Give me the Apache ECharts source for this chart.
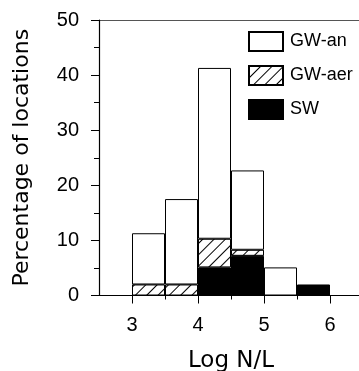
<!DOCTYPE html>
<html>
<head>
<meta charset="utf-8">
<script src="https://cdn.jsdelivr.net/npm/echarts@6/dist/echarts.min.js"></script>
<style>
  html, body { margin: 0; padding: 0; background: #fff; }
  #chart { width: 359px; height: 371px; }
</style>
</head>
<body>
<div id="chart"></div>
<script>
// histogram bins (left edge, each 0.5 wide in Log N/L)
const binStarts = ['3', '3.5', '4', '4.5', '5', '5.5'];
// percentage of locations, stacked bottom -> top
const swValues = [0, 0, 5.1, 7.2, 0, 2.0];
const gwAerValues = [2.0, 2.0, 5.2, 1.1, 0, 0];
const gwAnValues = [9.3, 15.5, 31.0, 14.4, 5.1, 0];
const xTickLabels = [3, 4, 5, 6];
const xMinorTicks = [3.5, 4.5, 5.5];

const toData = (vals) => vals.map((v) => (v > 0 ? v : '-'));

const chart = echarts.init(document.getElementById('chart'));

const TOP = 20;
const BOTTOM = 75.5;

const baseBar = {
  type: 'bar',
  stack: 'total',
  xAxisIndex: 3,
  yAxisIndex: 1,
  barCategoryGap: 0,
  emphasis: { disabled: true },
};

const option = {
  animation: false,
  grid: [
    // axes frame: 2.5 .. 6.5
    { left: 99, top: TOP, right: -4, bottom: BOTTOM, outerBoundsMode: 'none' },
    // bars: 3 .. 6
    { left: 132, top: TOP, right: 29, bottom: BOTTOM, outerBoundsMode: 'none' },
  ],
  legend: {
    orient: 'vertical',
    left: 248,
    top: 31,
    padding: 0,
    itemWidth: 34,
    itemHeight: 19,
    itemGap: 13,
    icon: 'rect',
    data: ['GW-an', 'GW-aer', 'SW'],
    textStyle: {
      fontFamily: 'Liberation Sans',
      fontSize: 18,
      color: '#000',
      padding: [0, 0, 0, 2],
    },
  },
  xAxis: [
    {
      type: 'value',
      gridIndex: 0,
      min: 2.5,
      max: 6.5,
      position: 'bottom',
      name: 'Log N/L',
      nameLocation: 'middle',
      nameGap: 54,
      nameTextStyle: { fontFamily: 'DejaVu Sans', fontSize: 23, color: '#000' },
      splitLine: { show: false },
      axisLine: { lineStyle: { color: '#000', width: 1.2 } },
      axisTick: { customValues: xTickLabels, length: 8, lineStyle: { color: '#000' } },
      axisLabel: {
        customValues: xTickLabels,
        margin: 20,
        fontFamily: 'Liberation Sans',
        fontSize: 20,
        color: '#000',
      },
      z: 5,
    },
    {
      // minor ticks at half-units
      type: 'value',
      gridIndex: 0,
      min: 2.5,
      max: 6.5,
      position: 'bottom',
      splitLine: { show: false },
      axisLine: { show: false },
      axisTick: { customValues: xMinorTicks, length: 4, lineStyle: { color: '#000' } },
      axisLabel: { show: false },
    },
    {
      // top frame line
      type: 'value',
      gridIndex: 0,
      min: 2.5,
      max: 6.5,
      position: 'top',
      splitLine: { show: false },
      axisLine: { lineStyle: { color: '#555', width: 1 } },
      axisTick: { show: false },
      axisLabel: { show: false },
    },
    {
      // hidden category axis carrying the bars
      type: 'category',
      gridIndex: 1,
      data: binStarts,
      boundaryGap: true,
      show: false,
    },
  ],
  yAxis: [
    {
      type: 'value',
      gridIndex: 0,
      min: 0,
      max: 50,
      interval: 10,
      name: 'Percentage of locations',
      nameLocation: 'middle',
      nameGap: 66,
      nameTextStyle: { fontFamily: 'DejaVu Sans', fontSize: 22, color: '#000' },
      splitLine: { show: false },
      axisLine: { show: true, lineStyle: { color: '#000', width: 1.2 } },
      axisTick: { show: true, length: 8, lineStyle: { color: '#000' } },
      minorTick: { show: true, splitNumber: 2, length: 5, lineStyle: { color: '#000' } },
      axisLabel: {
        margin: 20,
        fontFamily: 'Liberation Sans',
        fontSize: 20,
        color: '#000',
      },
      z: 5,
    },
    {
      type: 'value',
      gridIndex: 1,
      min: 0,
      max: 50,
      show: false,
      splitLine: { show: false },
    },
  ],
  series: [
    {
      ...baseBar,
      name: 'SW',
      data: toData(swValues),
      itemStyle: { color: '#000', borderColor: '#000', borderWidth: 1 },
    },
    {
      ...baseBar,
      name: 'GW-aer',
      data: toData(gwAerValues),
      itemStyle: {
        color: '#fff',
        borderColor: '#000',
        borderWidth: 1,
        decal: {
          symbol: 'rect',
          symbolSize: 1,
          color: '#000',
          backgroundColor: '#fff',
          dashArrayX: [1, 0],
          dashArrayY: [1, 6.5],
          rotation: -Math.PI / 4,
        },
      },
    },
    {
      ...baseBar,
      name: 'GW-an',
      data: toData(gwAnValues),
      itemStyle: { color: '#fff', borderColor: '#000', borderWidth: 1 },
    },
  ],
};

chart.setOption(option);
</script>
</body>
</html>
